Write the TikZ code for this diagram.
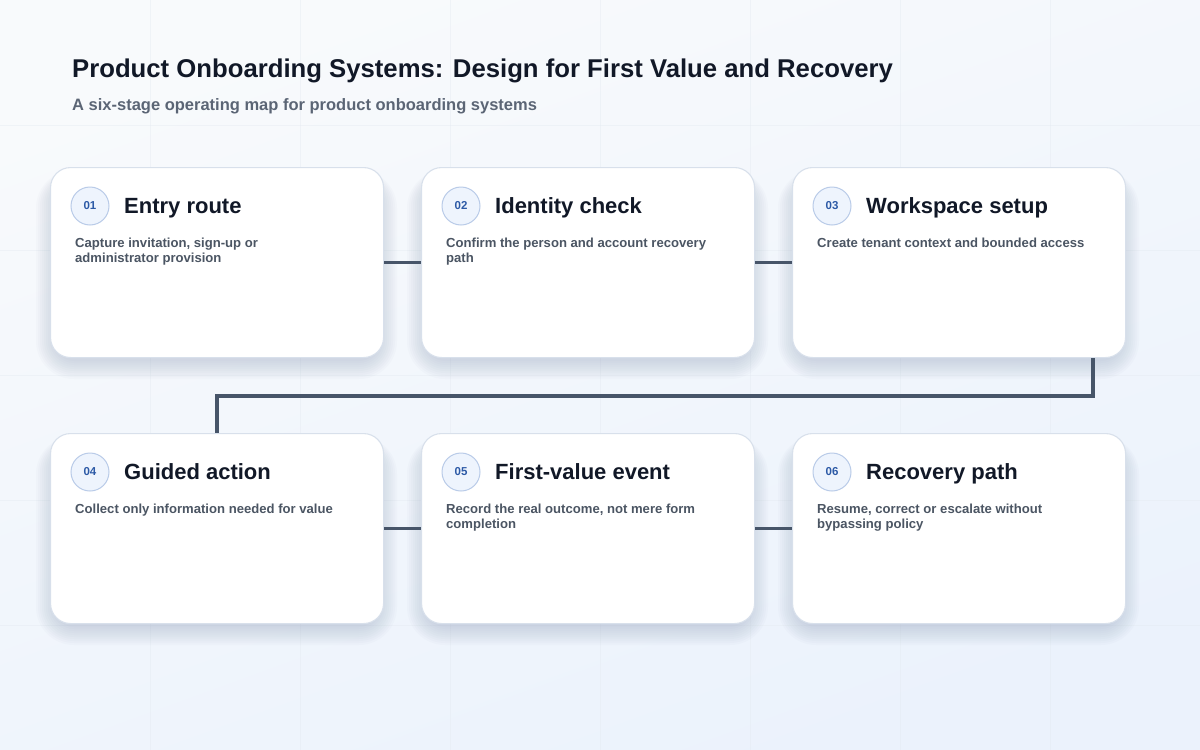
\documentclass[tikz,border=0pt]{standalone}
\usepackage{fontspec}
\setmainfont{Liberation Sans}
\usetikzlibrary{calc}
\definecolor{bgA}{HTML}{F8FAFC}
\definecolor{bgB}{HTML}{EBF2FC}
\definecolor{gridc}{HTML}{E3E9F1}
\definecolor{cardline}{HTML}{D8E0EB}
\definecolor{shadowc}{HTML}{7E8FAE}
\definecolor{titlec}{HTML}{111827}
\definecolor{subc}{HTML}{5B6575}
\definecolor{descc}{HTML}{4B5563}
\definecolor{badgefill}{HTML}{EEF4FD}
\definecolor{badgeline}{HTML}{B9CBE8}
\definecolor{badgetext}{HTML}{2D5AA6}
\definecolor{connc}{HTML}{475569}
\tikzset{
  card/.style={draw=cardline, line width=1.1pt, fill=white, rounded corners=20pt,
    minimum width=333pt, minimum height=190pt, inner sep=0pt, anchor=north west},
  badge/.style={circle, draw=badgeline, line width=1pt, fill=badgefill, minimum size=38pt,
    inner sep=0pt, text=badgetext, font=\fontsize{11.5}{13}\selectfont\bfseries},
  cardtitle/.style={anchor=base west, inner sep=0pt, text=titlec,
    font=\fontsize{22}{26}\selectfont\bfseries},
  carddesc/.style={anchor=north west, inner sep=0pt, text=descc, align=left,
    font=\fontsize{13.1}{15}\selectfont\bfseries},
  conn/.style={draw=connc, line width=3.6pt, line join=miter}
}
\newcommand{\cardshadow}[2]{%
  \foreach \i in {0,2,...,18}{%
    \fill[shadowc, opacity=0.03, rounded corners={20pt+\i pt}]
      ($(#1,#2)+(-\i+4,14-\i*0.6)$) rectangle ($(#1,#2)+(333+\i-4,190+\i+4)$);
  }%
}
\begin{document}
\begin{tikzpicture}[x=1pt,y=-1pt]
\useasboundingbox (0,0) rectangle (1200,750);
\shade[shading=axis, top color=bgA, bottom color=bgB, shading angle=20] (0,0) rectangle (1200,750);
\foreach \x in {150,300,...,1050} \draw[gridc, line width=0.6pt, opacity=0.4] (\x,0) -- (\x,750);
\foreach \y in {125,250,...,625} \draw[gridc, line width=0.6pt, opacity=0.4] (0,\y) -- (1200,\y);

\node[anchor=base west, inner sep=0pt, text=titlec, font=\fontsize{25.7}{30}\selectfont\bfseries] (title) at (72,77)
  {Product Onboarding Systems: Design for First Value and Recovery};
\node[anchor=base west, inner sep=0pt, text=subc, font=\fontsize{16.5}{20}\selectfont\bfseries] (subtitle) at (72,110)
  {A six-stage operating map for product onboarding systems};

\cardshadow{50}{167}
\cardshadow{421}{167}
\cardshadow{792}{167}
\cardshadow{50}{433}
\cardshadow{421}{433}
\cardshadow{792}{433}

\node[card] (c1) at (50,167) {};
\node[card] (c2) at (421,167) {};
\node[card] (c3) at (792,167) {};
\node[card] (c4) at (50,433) {};
\node[card] (c5) at (421,433) {};
\node[card] (c6) at (792,433) {};

\foreach \c/\n/\t/\d in {
  c1/01/Entry route/{Capture invitation, sign-up or\\administrator provision},
  c2/02/Identity check/{Confirm the person and account recovery\\path},
  c3/03/Workspace setup/{Create tenant context and bounded access},
  c4/04/Guided action/{Collect only information needed for value},
  c5/05/First-value event/{Record the real outcome, not mere form\\completion},
  c6/06/Recovery path/{Resume, correct or escalate without\\bypassing policy}}{
  \node[badge] (\c b) at ($(\c.north west)+(40,39)$) {\n};
  \node[cardtitle] (\c t) at ($(\c.north west)+(74,46)$) {\t};
  \node[carddesc] (\c d) at ($(\c.north west)+(25,70.5)$) {\d};
}

\draw[conn] (c1.east) -- (c2.west);
\draw[conn] (c2.east) -- (c3.west);
\coordinate (k3) at ($(c3.south east)+(-33,0)$);
\draw[conn] (k3) -- ++(0,38) -| (c4.north);
\draw[conn] (c4.east) -- (c5.west);
\draw[conn] (c5.east) -- (c6.west);
\end{tikzpicture}
\end{document}
